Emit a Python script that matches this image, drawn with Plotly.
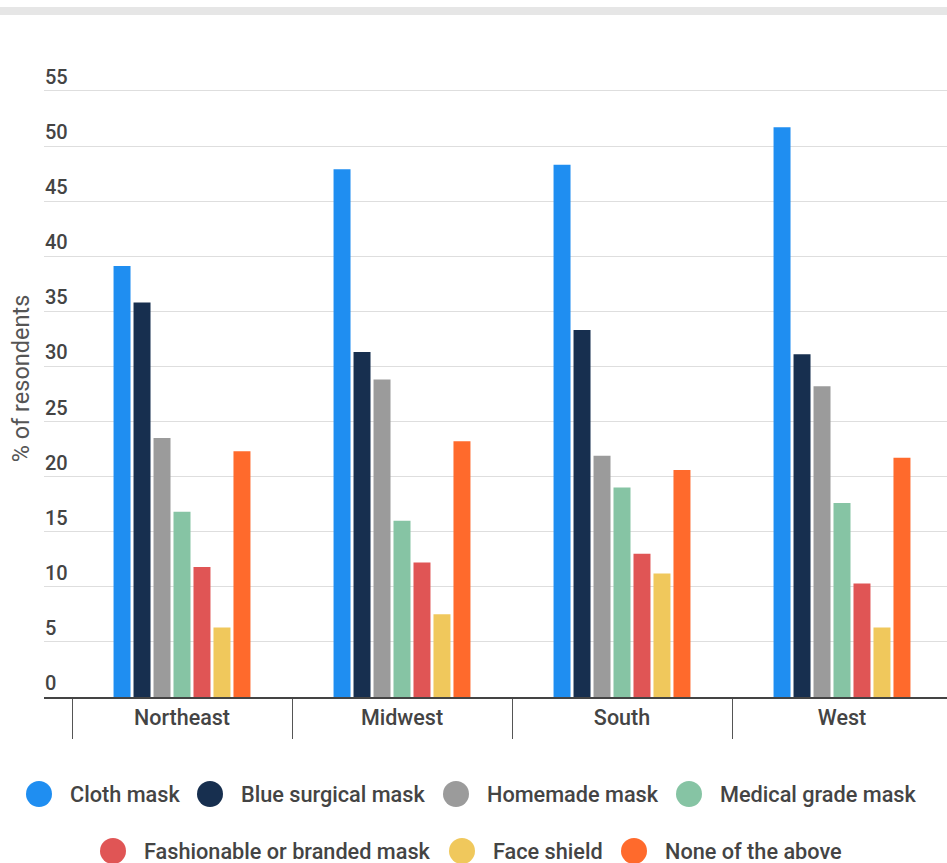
import plotly.graph_objects as go

regions = ["Northeast", "Midwest", "South", "West"]
series_names = ["Cloth mask", "Blue surgical mask", "Homemade mask", "Medical grade mask",
                "Fashionable or branded mask", "Face shield", "None of the above"]
cloth = [39.1, 47.9, 48.3, 51.7]
blue_surgical = [35.8, 31.3, 33.3, 31.1]
homemade = [23.5, 28.8, 21.9, 28.2]
medical = [16.8, 16.0, 19.0, 17.6]
fashionable = [11.8, 12.2, 13.0, 10.3]
face_shield = [6.3, 7.5, 11.2, 6.3]
none_above = [22.3, 23.2, 20.6, 21.7]
values = [cloth, blue_surgical, homemade, medical, fashionable, face_shield, none_above]
colors = ["#1f8ef1", "#172f4f", "#9b9b9b", "#86c4a4", "#e05555", "#f0c85c", "#ff6a2c"]
y_ticks = [0, 5, 10, 15, 20, 25, 30, 35, 40, 45, 50, 55]

W, H = 947, 863
L, R, T, B = 44, 0, 60, 166
pw, ph = W - L - R, H - T - B
px_per_unit = 11.02

def px(x):
    return (x - L) / pw

def py(y):
    return (H - B - y) / ph

fig = go.Figure()
for name, vals, col in zip(series_names, values, colors):
    fig.add_trace(go.Bar(x=regions, y=vals, name=name, marker=dict(color=col, line=dict(width=0)),
                         showlegend=False))

fig.update_layout(
    width=W, height=H,
    margin=dict(l=L, r=R, t=T, b=B),
    paper_bgcolor="white", plot_bgcolor="white",
    font=dict(family="Roboto", color="#444", weight=500),
    barmode="group", bargap=0.364, bargroupgap=0.15,
    xaxis=dict(range=[-0.5 - 28 / 220, -0.5 + (947 - 72) / 220], showgrid=False,
               tickson="boundaries", ticks="outside", ticklen=40, tickwidth=1, tickcolor="#555",
               showline=True, linecolor="#444", linewidth=2,
               tickfont=dict(size=21.5, color="#444", weight=500), ticklabelstandoff=0),
    yaxis=dict(range=[0, ph / px_per_unit], tickvals=y_ticks, showgrid=True, gridcolor="#dedede",
               gridwidth=1, zeroline=False, showline=False,
               ticklabelposition="inside", ticklabelshift=-14, ticklabelstandoff=-2,
               tickfont=dict(size=20, color="#444", weight=500),
               title=dict(text="% of resondents", font=dict(size=23.5, color="#555", weight=400),
                          standoff=8)),
)

# top gray band
fig.add_shape(type="rect", xref="paper", yref="paper", x0=px(0), x1=px(947), y0=py(15), y1=py(7),
              fillcolor="#e6e6e6", line=dict(width=0), layer="above")

# custom legend
legend_pos = [(39, 794), (210, 794), (456, 794), (689, 794), (113, 851), (462, 851), (634, 851)]
r = 13
for name, col, (cx, cy) in zip(series_names, colors, legend_pos):
    fig.add_shape(type="circle", xref="paper", yref="paper",
                  x0=px(cx - r), x1=px(cx + r), y0=py(cy + r), y1=py(cy - r),
                  fillcolor=col, line=dict(width=0))
    fig.add_annotation(xref="paper", yref="paper", x=px(cx + 29), y=py(cy), text=name,
                       showarrow=False, xanchor="left", yanchor="middle",
                       font=dict(size=21.7, color="#444", weight=500))

fig.write_html("out.html")
